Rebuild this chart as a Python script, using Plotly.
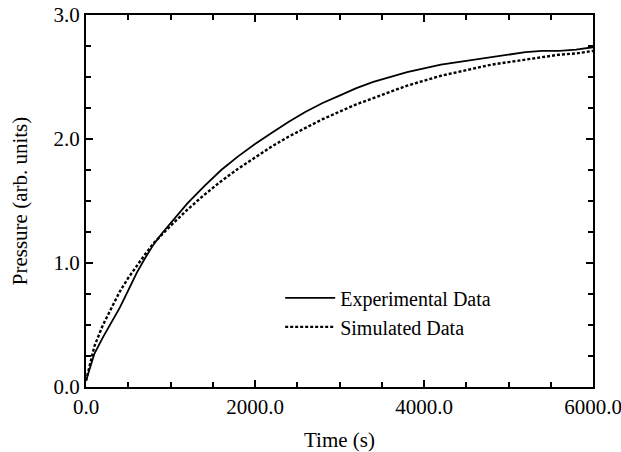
import plotly.graph_objects as go

# Pressure rise over time: measured trace and model prediction
time_s = [0, 50, 100, 200, 300, 400, 500, 600, 700, 800, 900, 1000,
          1200, 1400, 1600, 1800, 2000, 2200, 2400, 2600, 2800, 3000,
          3200, 3400, 3600, 3800, 4000, 4200, 4400, 4600, 4800, 5000,
          5200, 5400, 5600, 5800, 6000]

experimental = [0.05, 0.17, 0.27, 0.40, 0.52, 0.64, 0.78, 0.92, 1.04, 1.15,
                1.24, 1.32, 1.48, 1.62, 1.75, 1.86, 1.96, 2.05, 2.14, 2.22,
                2.29, 2.35, 2.41, 2.46, 2.50, 2.54, 2.57, 2.60, 2.62, 2.64,
                2.66, 2.68, 2.70, 2.71, 2.71, 2.72, 2.74]

simulated = [0.05, 0.20, 0.33, 0.50, 0.64, 0.77, 0.88, 0.98, 1.07, 1.16,
             1.23, 1.30, 1.43, 1.55, 1.66, 1.76, 1.85, 1.94, 2.02, 2.09,
             2.16, 2.22, 2.28, 2.33, 2.38, 2.43, 2.47, 2.51, 2.54, 2.57,
             2.60, 2.62, 2.64, 2.66, 2.68, 2.69, 2.71]

FONT = "Liberation Serif, Times New Roman, serif"
FS = 21

fig = go.Figure()
fig.add_trace(go.Scatter(
    x=time_s, y=experimental, mode="lines", name="Experimental Data",
    line=dict(color="black", width=1.8),
))
fig.add_trace(go.Scatter(
    x=time_s, y=simulated, mode="lines", name="Simulated Data",
    line=dict(color="black", width=2.4, dash="3px,2px"),
))

axis_common = dict(
    showgrid=False, zeroline=False, automargin=False,
    showline=True, linecolor="black", linewidth=2,
    mirror="ticks", ticks="inside", ticklen=7, tickwidth=1.5,
    tickcolor="black", tickformat=".1f", ticklabeloverflow="allow",
    tickfont=dict(family=FONT, size=FS, color="black"),
)

fig.update_xaxes(
    range=[0, 6000], dtick=2000, tick0=0,
    minor=dict(dtick=500, ticks="inside", ticklen=5, tickwidth=1.5,
               tickcolor="black"),
    title=dict(text="Time (s)", font=dict(family=FONT, size=FS, color="black"),
               standoff=18),
    **axis_common,
)
fig.update_yaxes(
    range=[0, 3], dtick=1, tick0=0,
    minor=dict(dtick=0.25, ticks="inside", ticklen=5, tickwidth=1.5,
               tickcolor="black"),
    title=dict(text="Pressure (arb. units)",
               font=dict(family=FONT, size=FS, color="black"), standoff=20),
    **axis_common,
)

fig.update_layout(
    width=621, height=452,
    margin=dict(l=86, r=28, t=15, b=65),
    paper_bgcolor="white", plot_bgcolor="white",
    showlegend=True,
    legend=dict(
        x=0.383, y=0.292, xanchor="left", yanchor="top",
        bgcolor="rgba(0,0,0,0)", borderwidth=0,
        font=dict(family=FONT, size=FS - 1, color="black"),
        itemwidth=50, tracegroupgap=0,
    ),
)

fig.write_html("out.html")
